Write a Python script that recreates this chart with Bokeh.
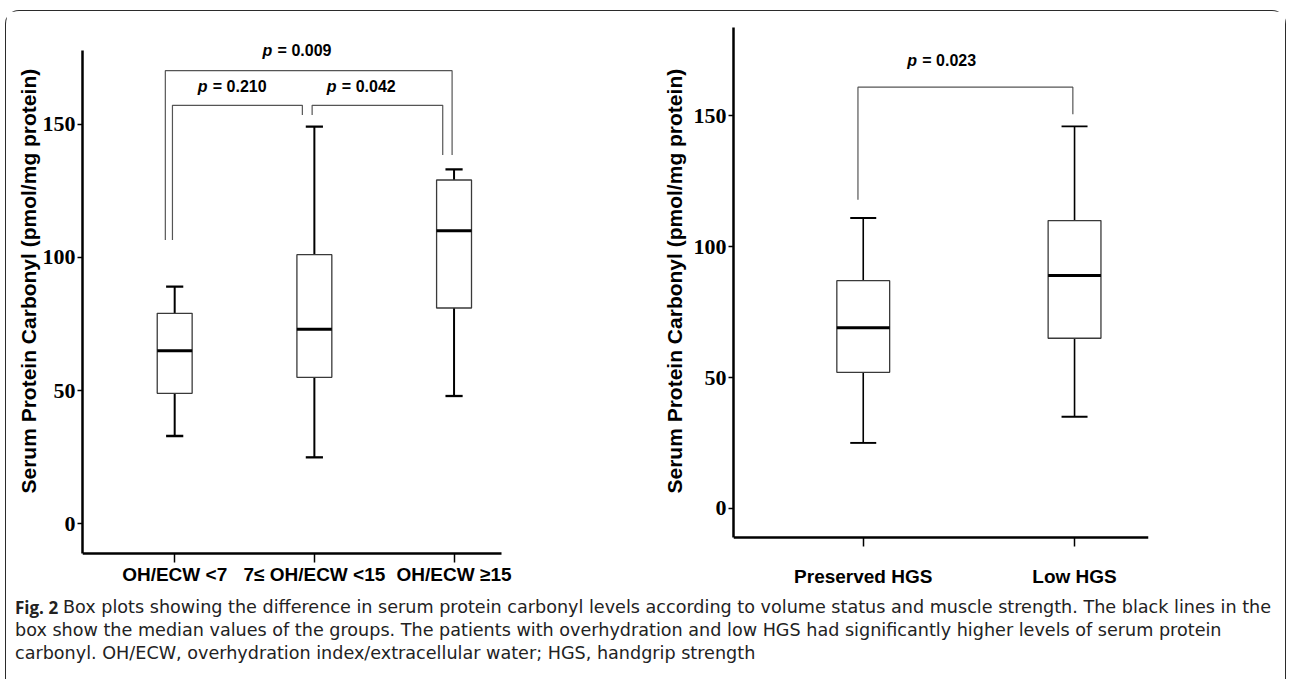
import numpy as np
from bokeh.plotting import figure
from bokeh.models import FixedTicker, Label, Title
from bokeh.layouts import row, column
from bokeh.embed import file_html
from bokeh.resources import INLINE
from bokeh.core.properties import value

# ---------------- data ----------------
vol_groups = ["OH/ECW <7", "7\u2264 OH/ECW <15", "OH/ECW \u226515"]
vol_min = [33, 25, 48]
vol_q1 = [49, 55, 81]
vol_median = [65, 73, 110]
vol_q3 = [79, 101, 129]
vol_max = [89, 149, 133]

hgs_groups = ["Preserved HGS", "Low HGS"]
hgs_min = [25, 35]
hgs_q1 = [52, 65]
hgs_median = [69, 89]
hgs_q3 = [87, 110]
hgs_max = [111, 146]

y_ticks = [0, 50, 100, 150]

# comparisons: p-value text, bracket level, left end x, left drop y, right end x, right drop y, label x, label y
vol_p = ["0.009", "0.210", "0.042"]
vol_level = [170, 157, 157]
vol_ax = [0.933, 0.984, 1.984]
vol_ay = [106.5, 106.5, 153.4]
vol_bx = [2.986, 1.914, 2.919]
vol_by = [138.4, 153.4, 138.4]
vol_lx = [1.88, 1.416, 2.34]
vol_ly = [177.5, 164, 164]

hgs_p = ["0.023"]
hgs_level = [161]
hgs_ax = [0.975]
hgs_ay = [118]
hgs_bx = [1.992]
hgs_by = [150.6]
hgs_lx = [1.374]
hgs_ly = [171]

YLABEL = "Serum Protein Carbonyl (pmol/mg protein)"
CAP_BOLD = "Fig. 2"
CAP_LINES = [
    "Box plots showing the difference in serum protein carbonyl levels according to volume status and muscle strength. The black lines in the",
    "box show the median values of the groups. The patients with overhydration and low HGS had significantly higher levels of serum protein",
    "carbonyl. OH/ECW, overhydration index/extracellular water; HGS, handgrip strength",
]

TOP, H = 16, 583


def panel(groups, mins, q1, med, q3, maxs, pv, lev, ax, ay, bx, by, lx, ly,
          xr, xbounds, yr, ybounds, w, bl, br, wl, xstand, ttl_standoff):
    n = len(groups)
    xs = np.arange(1, n + 1).astype(float)
    p = figure(width=w, height=H, x_range=xr, y_range=yr,
               output_backend="svg", toolbar_location=None,
               min_border_left=bl, min_border_top=TOP, min_border_bottom=0,
               min_border_right=br)
    p.xgrid.visible = False
    p.ygrid.visible = False
    p.outline_line_color = None

    bw = 0.25
    cw = 0.0615
    # whiskers
    p.segment(xs, q3, xs, maxs, line_color="black", line_width=wl)
    p.segment(xs, mins, xs, q1, line_color="black", line_width=wl)
    p.segment(xs - cw, maxs, xs + cw, maxs, line_color="black", line_width=wl + 0.3)
    p.segment(xs - cw, mins, xs + cw, mins, line_color="black", line_width=wl + 0.3)
    # boxes
    p.vbar(x=xs, width=bw, top=q3, bottom=q1, fill_color="white",
           line_color="#3a3a3a", line_width=1.3)
    p.segment(xs - bw / 2, med, xs + bw / 2, med, line_color="black", line_width=3)

    # brackets
    mx = [[a, a, b, b] for a, b in zip(ax, bx)]
    my = [[ya, l, l, yb] for ya, l, yb in zip(ay, lev, by)]
    p.multi_line(mx, my, line_color="#555555", line_width=1.2)
    p.text(x=lx, y=ly, text=["p"] * len(pv), text_font=value("Liberation Sans"),
           text_font_style="bold italic", text_font_size="16px",
           text_align="left", text_baseline="middle", x_offset=-35, text_color="black")
    p.text(x=lx, y=ly, text=["= " + s for s in pv], text_font=value("Liberation Sans"),
           text_font_style="bold", text_font_size="16px",
           text_align="left", text_baseline="middle", x_offset=-20, text_color="black")

    # axes
    p.yaxis.ticker = FixedTicker(ticks=y_ticks)
    p.yaxis.bounds = ybounds
    p.yaxis.axis_line_width = 2.5
    p.yaxis.axis_line_color = "black"
    p.yaxis.major_tick_out = 5
    p.yaxis.major_tick_in = 0
    p.yaxis.major_tick_line_width = 1.5
    p.yaxis.minor_tick_line_color = None
    p.yaxis.major_label_text_font = "Liberation Serif"
    p.yaxis.major_label_text_font_style = "bold"
    p.yaxis.major_label_text_font_size = "22px"
    p.yaxis.major_label_text_color = "black"
    p.yaxis.major_label_standoff = 2

    p.add_layout(Title(text=YLABEL, align="left", offset=101,
                       text_font="Liberation Sans", text_font_style="bold",
                       text_font_size="21px", text_color="black",
                       standoff=ttl_standoff), "left")

    p.xaxis.ticker = FixedTicker(ticks=list(xs))
    p.xaxis.bounds = xbounds
    p.xaxis.fixed_location = ybounds[0]
    p.xaxis.major_label_overrides = {float(x): g for x, g in zip(xs, groups)}
    p.xaxis.axis_line_width = 2.5
    p.xaxis.axis_line_color = "black"
    p.xaxis.major_tick_out = 9
    p.xaxis.major_tick_in = 0
    p.xaxis.major_tick_line_width = 1.5
    p.xaxis.minor_tick_line_color = None
    p.xaxis.major_label_text_font = "Liberation Sans"
    p.xaxis.major_label_text_font_style = "bold"
    p.xaxis.major_label_text_font_size = "19px"
    p.xaxis.major_label_text_color = "black"
    p.xaxis.major_label_standoff = xstand
    return p


left = panel(vol_groups, vol_min, vol_q1, vol_median, vol_q3, vol_max,
             vol_p, vol_level, vol_ax, vol_ay, vol_bx, vol_by, vol_lx, vol_ly,
             (0.34, 4.342), (0.34, 3.34), (-26.44, 186.2), (-11.25, 177.7),
             640, 76, 5, 2.0, 1, 0)
right = panel(hgs_groups, hgs_min, hgs_q1, hgs_median, hgs_q3, hgs_max,
              hgs_p, hgs_level, hgs_ax, hgs_ay, hgs_bx, hgs_by, hgs_lx, hgs_ly,
              (0.386, 2.35), (0.386, 2.35), (-32.95, 183.8), (-11.1, 184),
              639, 87, 137, 1.6, 20, 9)

CAP_H = 85
cap = figure(width=1279, height=CAP_H, x_range=(0, 1279), y_range=(0, CAP_H),
             output_backend="svg", toolbar_location=None, min_border=0)
cap.axis.visible = False
cap.xgrid.visible = False
cap.ygrid.visible = False
cap.outline_line_color = None
cap.add_layout(Label(x=8.5, y=72.5, text=CAP_BOLD, text_font="Open Sans",
                     text_font_style="bold", text_font_size="17px",
                     text_baseline="middle", text_color="#222222"))
for i, (xx, line) in enumerate(zip([56.5, 8.5, 8.5], CAP_LINES)):
    cap.add_layout(Label(x=xx, y=72.5 - 23 * i, text=line, text_font="DejaVu Sans",
                         text_font_size="17.6px", text_baseline="middle",
                         text_color="#222222"))

layout = column(row(left, right), cap, margin=(10, 0, 0, 5),
                styles={"border": "1.5px solid #2b2b2b", "border-bottom": "none",
                        "border-radius": "14px 14px 0 0"})

open("out.html", "w").write(file_html(layout, INLINE))
